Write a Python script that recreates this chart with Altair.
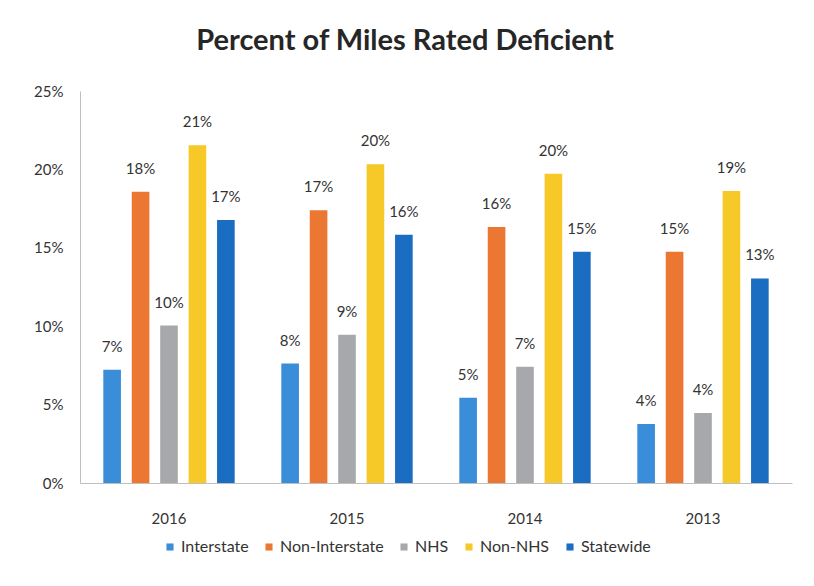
import altair as alt
import pandas as pd

years = ["2016", "2015", "2014", "2013"]
series = ["Interstate", "Non-Interstate", "NHS", "Non-NHS", "Statewide"]
values = {
    "Interstate":     [7.23, 7.62, 5.43, 3.77],
    "Non-Interstate": [18.58, 17.39, 16.32, 14.75],
    "NHS":            [10.04, 9.45, 7.41, 4.47],
    "Non-NHS":        [21.54, 20.33, 19.73, 18.62],
    "Statewide":      [16.77, 15.84, 14.75, 13.05],
}
labels = {
    "Interstate":     ["7%", "8%", "5%", "4%"],
    "Non-Interstate": ["18%", "17%", "16%", "15%"],
    "NHS":            ["10%", "9%", "7%", "4%"],
    "Non-NHS":        ["21%", "20%", "20%", "19%"],
    "Statewide":      ["17%", "16%", "15%", "13%"],
}
colors = ["#3A8DD8", "#EC7733", "#A6A8AB", "#F6C929", "#1B6DC1"]
y_ticks = [0, 5, 10, 15, 20, 25]

rows = []
for s in series:
    for i, yr in enumerate(years):
        rows.append({"year": yr, "series": s, "value": values[s][i], "label": labels[s][i]})
df = pd.DataFrame(rows)

FONT = "Lato"

x = alt.X("year:N", sort=years, title=None,
          scale=alt.Scale(paddingInner=0.23, paddingOuter=0.115),
          axis=alt.Axis(labelAngle=0, ticks=False, domainColor="#BFBFBF",
                        labelFontSize=15, labelColor="#333333", labelFont=FONT,
                        labelPadding=28))
xo = alt.XOffset("series:N", sort=series,
                 scale=alt.Scale(paddingInner=0.38, paddingOuter=0.1))
y = alt.Y("value:Q", title=None,
          scale=alt.Scale(domain=[0, 25], nice=False),
          axis=alt.Axis(values=y_ticks, labelExpr="datum.value + '%'", grid=False,
                        ticks=False, domainColor="#BFBFBF", labelFontSize=15,
                        labelColor="#333333", labelFont=FONT, labelPadding=17))
color = alt.Color("series:N", sort=series,
                  scale=alt.Scale(domain=series, range=colors),
                  legend=alt.Legend(title=None, orient="none", direction="horizontal",
                                    legendX=82, legendY=448, symbolType="square",
                                    symbolSize=50, symbolStrokeWidth=0,
                                    labelFontSize=16, labelFont=FONT,
                                    labelColor="#333333", columnPadding=12,
                                    labelOffset=3))

bars = alt.Chart(df).mark_bar().encode(x=x, xOffset=xo, y=y, color=color)
text = alt.Chart(df).mark_text(baseline="bottom", dy=-15, fontSize=15, font=FONT,
                               color="#333333").encode(
    x=x, xOffset=xo, y=y, text="label:N")

chart = (bars + text).properties(
    width=712, height=392,
    background="white",
    title=alt.TitleParams("Percent of Miles Rated Deficient", fontSize=29,
                          font=FONT, fontWeight="bold", color="#262626",
                          anchor="middle", dx=-31, offset=28),
    padding={"left": 72, "top": 83, "right": 14, "bottom": 79},
    autosize=alt.AutoSizeParams(type="none"),
).configure_view(strokeWidth=0, stroke="transparent")

chart.save("out.html", embed_options={"renderer": "svg", "actions": False})
